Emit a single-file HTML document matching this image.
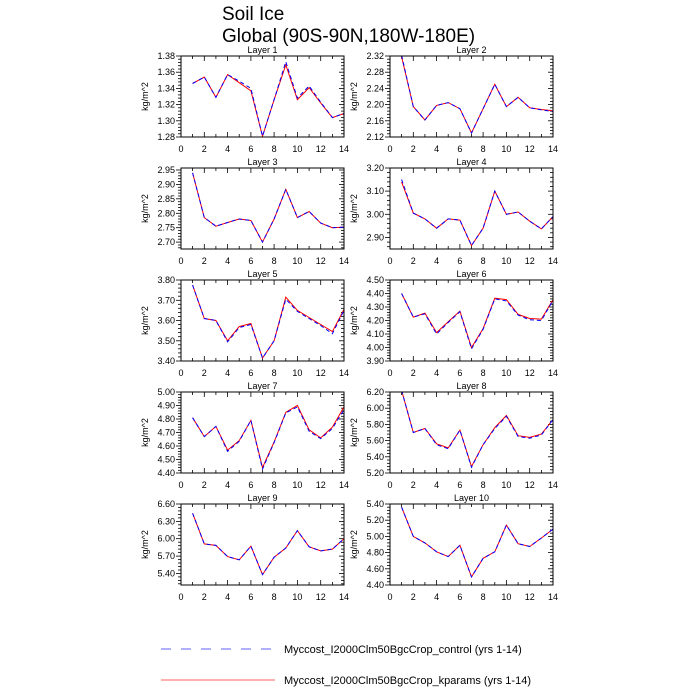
<!DOCTYPE html>
<html><head><meta charset="utf-8"><style>
html,body{margin:0;padding:0;background:#fff;}
svg{display:block;font-family:"Liberation Sans",sans-serif;}
</style></head><body>
<svg id="s" width="700" height="700" viewBox="0 0 700 700" xmlns="http://www.w3.org/2000/svg">
<rect width="700" height="700" fill="#fff"/>
<text x="222" y="20" font-size="19">Soil Ice</text>
<text x="222" y="42" font-size="19">Global (90S-90N,180W-180E)</text>
<line x1="161" y1="649" x2="275" y2="649" stroke="#6060ff" stroke-width="1" stroke-dasharray="10,10"/>
<text x="284" y="653" font-size="11">Myccost_I2000Clm50BgcCrop_control (yrs 1-14)</text>
<line x1="161" y1="680" x2="275" y2="680" stroke="#ff6060" stroke-width="1"/>
<text x="284" y="684" font-size="11">Myccost_I2000Clm50BgcCrop_kparams (yrs 1-14)</text>
</svg>
<script>
var P=[
{t:"Layer 1",lo:1.28,hi:1.38,st:0.02,d:2,
 b:[1.346,1.354,1.329,1.357,1.349,1.340,1.281,1.326,1.373,1.328,1.343,1.323,1.304,1.309],
 r:[1.346,1.354,1.329,1.357,1.347,1.337,1.281,1.326,1.369,1.326,1.341,1.322,1.304,1.309]},
{t:"Layer 2",lo:2.12,hi:2.32,st:0.04,d:2,
 b:[2.322,2.195,2.162,2.198,2.205,2.19,2.13,2.19,2.25,2.195,2.218,2.192,2.187,2.183],
 r:[2.318,2.195,2.162,2.198,2.205,2.19,2.13,2.19,2.25,2.195,2.218,2.192,2.188,2.185]},
{t:"Layer 3",lo:2.676,hi:2.957,st:0.05,d:2,t0:2.70,
 b:[2.94,2.785,2.755,2.768,2.78,2.775,2.70,2.78,2.883,2.785,2.806,2.766,2.75,2.752],
 r:[2.94,2.785,2.755,2.768,2.78,2.775,2.70,2.78,2.883,2.785,2.806,2.766,2.75,2.752]},
{t:"Layer 4",lo:2.85,hi:3.20,st:0.1,d:2,t0:2.90,
 b:[3.15,3.005,2.98,2.94,2.98,2.975,2.865,2.94,3.10,3.0,3.01,2.97,2.937,2.99],
 r:[3.14,3.005,2.98,2.94,2.98,2.975,2.865,2.94,3.10,3.0,3.01,2.97,2.937,2.99]},
{t:"Layer 5",lo:3.40,hi:3.80,st:0.1,d:2,
 b:[3.775,3.61,3.60,3.495,3.565,3.58,3.415,3.50,3.705,3.645,3.61,3.575,3.535,3.65],
 r:[3.775,3.61,3.60,3.50,3.57,3.585,3.415,3.50,3.715,3.65,3.615,3.58,3.545,3.655]},
{t:"Layer 6",lo:3.90,hi:4.50,st:0.1,d:2,
 b:[4.40,4.225,4.25,4.10,4.185,4.265,3.99,4.135,4.36,4.345,4.24,4.205,4.20,4.35],
 r:[4.40,4.225,4.255,4.11,4.19,4.27,4.0,4.14,4.365,4.355,4.245,4.215,4.21,4.355]},
{t:"Layer 7",lo:4.40,hi:5.00,st:0.1,d:2,
 b:[4.81,4.67,4.745,4.56,4.635,4.79,4.43,4.625,4.845,4.89,4.71,4.655,4.73,4.87],
 r:[4.81,4.67,4.745,4.57,4.64,4.79,4.44,4.63,4.85,4.90,4.72,4.66,4.74,4.89]},
{t:"Layer 8",lo:5.20,hi:6.20,st:0.2,d:2,
 b:[6.22,5.70,5.75,5.55,5.50,5.73,5.27,5.55,5.75,5.90,5.65,5.63,5.67,5.86],
 r:[6.22,5.70,5.75,5.56,5.51,5.73,5.28,5.55,5.76,5.91,5.66,5.64,5.68,5.86]},
{t:"Layer 9",lo:5.20,hi:6.60,st:0.3,d:2,t0:5.40,
 b:[6.44,5.91,5.885,5.69,5.635,5.87,5.38,5.68,5.84,6.14,5.86,5.79,5.82,6.0],
 r:[6.44,5.91,5.885,5.69,5.635,5.87,5.38,5.68,5.84,6.14,5.86,5.79,5.82,6.0]},
{t:"Layer 10",lo:4.40,hi:5.40,st:0.2,d:2,
 b:[5.36,5.0,4.92,4.81,4.75,4.89,4.50,4.73,4.81,5.14,4.91,4.875,4.98,5.09],
 r:[5.36,5.0,4.92,4.81,4.75,4.89,4.50,4.73,4.81,5.14,4.91,4.875,4.98,5.09]}
];
var s=document.getElementById('s'),h='';
var W=163,H=81;
P.forEach(function(p,i){
 var L=i%2?390:181,T=56+Math.floor(i/2)*112,R=L+W,B=T+H;
 var X=function(v){return L+v/14*W;},Y=function(v){return B-(v-p.lo)/(p.hi-p.lo)*H;};
 h+='<defs><clipPath id="c'+i+'"><rect x="'+L+'" y="'+T+'" width="'+W+'" height="'+H+'"/></clipPath></defs>';
 h+='<text x="'+(L+W/2)+'" y="'+(T-3)+'" font-size="9" text-anchor="middle">'+p.t+'</text>';
 var yl=L-33;
 h+='<text transform="translate('+yl+','+(T+H/2)+') rotate(-90)" font-size="9" text-anchor="middle">kg/m^2</text>';
 for(var x=0;x<=14;x++){
  var px=X(x).toFixed(1),len=x%2?3:5;
  h+='<line x1="'+px+'" y1="'+B+'" x2="'+px+'" y2="'+(B-len)+'" stroke="#000" stroke-width="0.8"/>';
  h+='<line x1="'+px+'" y1="'+T+'" x2="'+px+'" y2="'+(T+len)+'" stroke="#000" stroke-width="0.8"/>';
  if(x%2==0)h+='<text x="'+px+'" y="'+(B+15)+'" font-size="9" text-anchor="middle">'+x+'</text>';
 }
 var t0=p.t0!==undefined?p.t0:p.lo, ms=p.st/5;
 var start=t0-Math.floor((t0-p.lo)/ms+1e-6)*ms;
 for(var k=0;;k++){
  var v=start+k*ms; if(v>p.hi+1e-6)break;
  var maj=Math.abs(((v-t0)/p.st)-Math.round((v-t0)/p.st))<1e-3;
  var py=Y(v).toFixed(1),len=maj?5:3;
  h+='<line x1="'+L+'" y1="'+py+'" x2="'+(L-len)+'" y2="'+py+'" stroke="#000" stroke-width="0.8"/>';
  h+='<line x1="'+R+'" y1="'+py+'" x2="'+(R-len)+'" y2="'+py+'" stroke="#000" stroke-width="0.8"/>';
  if(maj)h+='<text x="'+(L-6)+'" y="'+(+py+3)+'" font-size="9" text-anchor="end">'+v.toFixed(p.d)+'</text>';
 }
 var pts=function(a){return a.map(function(v,j){return X(j+1).toFixed(1)+','+Y(v).toFixed(1);}).join(' ');};
 h+='<g clip-path="url(#c'+i+')"><polyline points="'+pts(p.r)+'" fill="none" stroke="#ff0000" stroke-width="1"/>';
 h+='<polyline points="'+pts(p.b)+'" fill="none" stroke="#0000ff" stroke-width="1" stroke-dasharray="4,3"/></g>';
 h+='<rect x="'+L+'" y="'+T+'" width="'+W+'" height="'+H+'" fill="none" stroke="#000" stroke-width="1"/>';
});
s.insertAdjacentHTML('beforeend',h);
</script>
</body></html>
